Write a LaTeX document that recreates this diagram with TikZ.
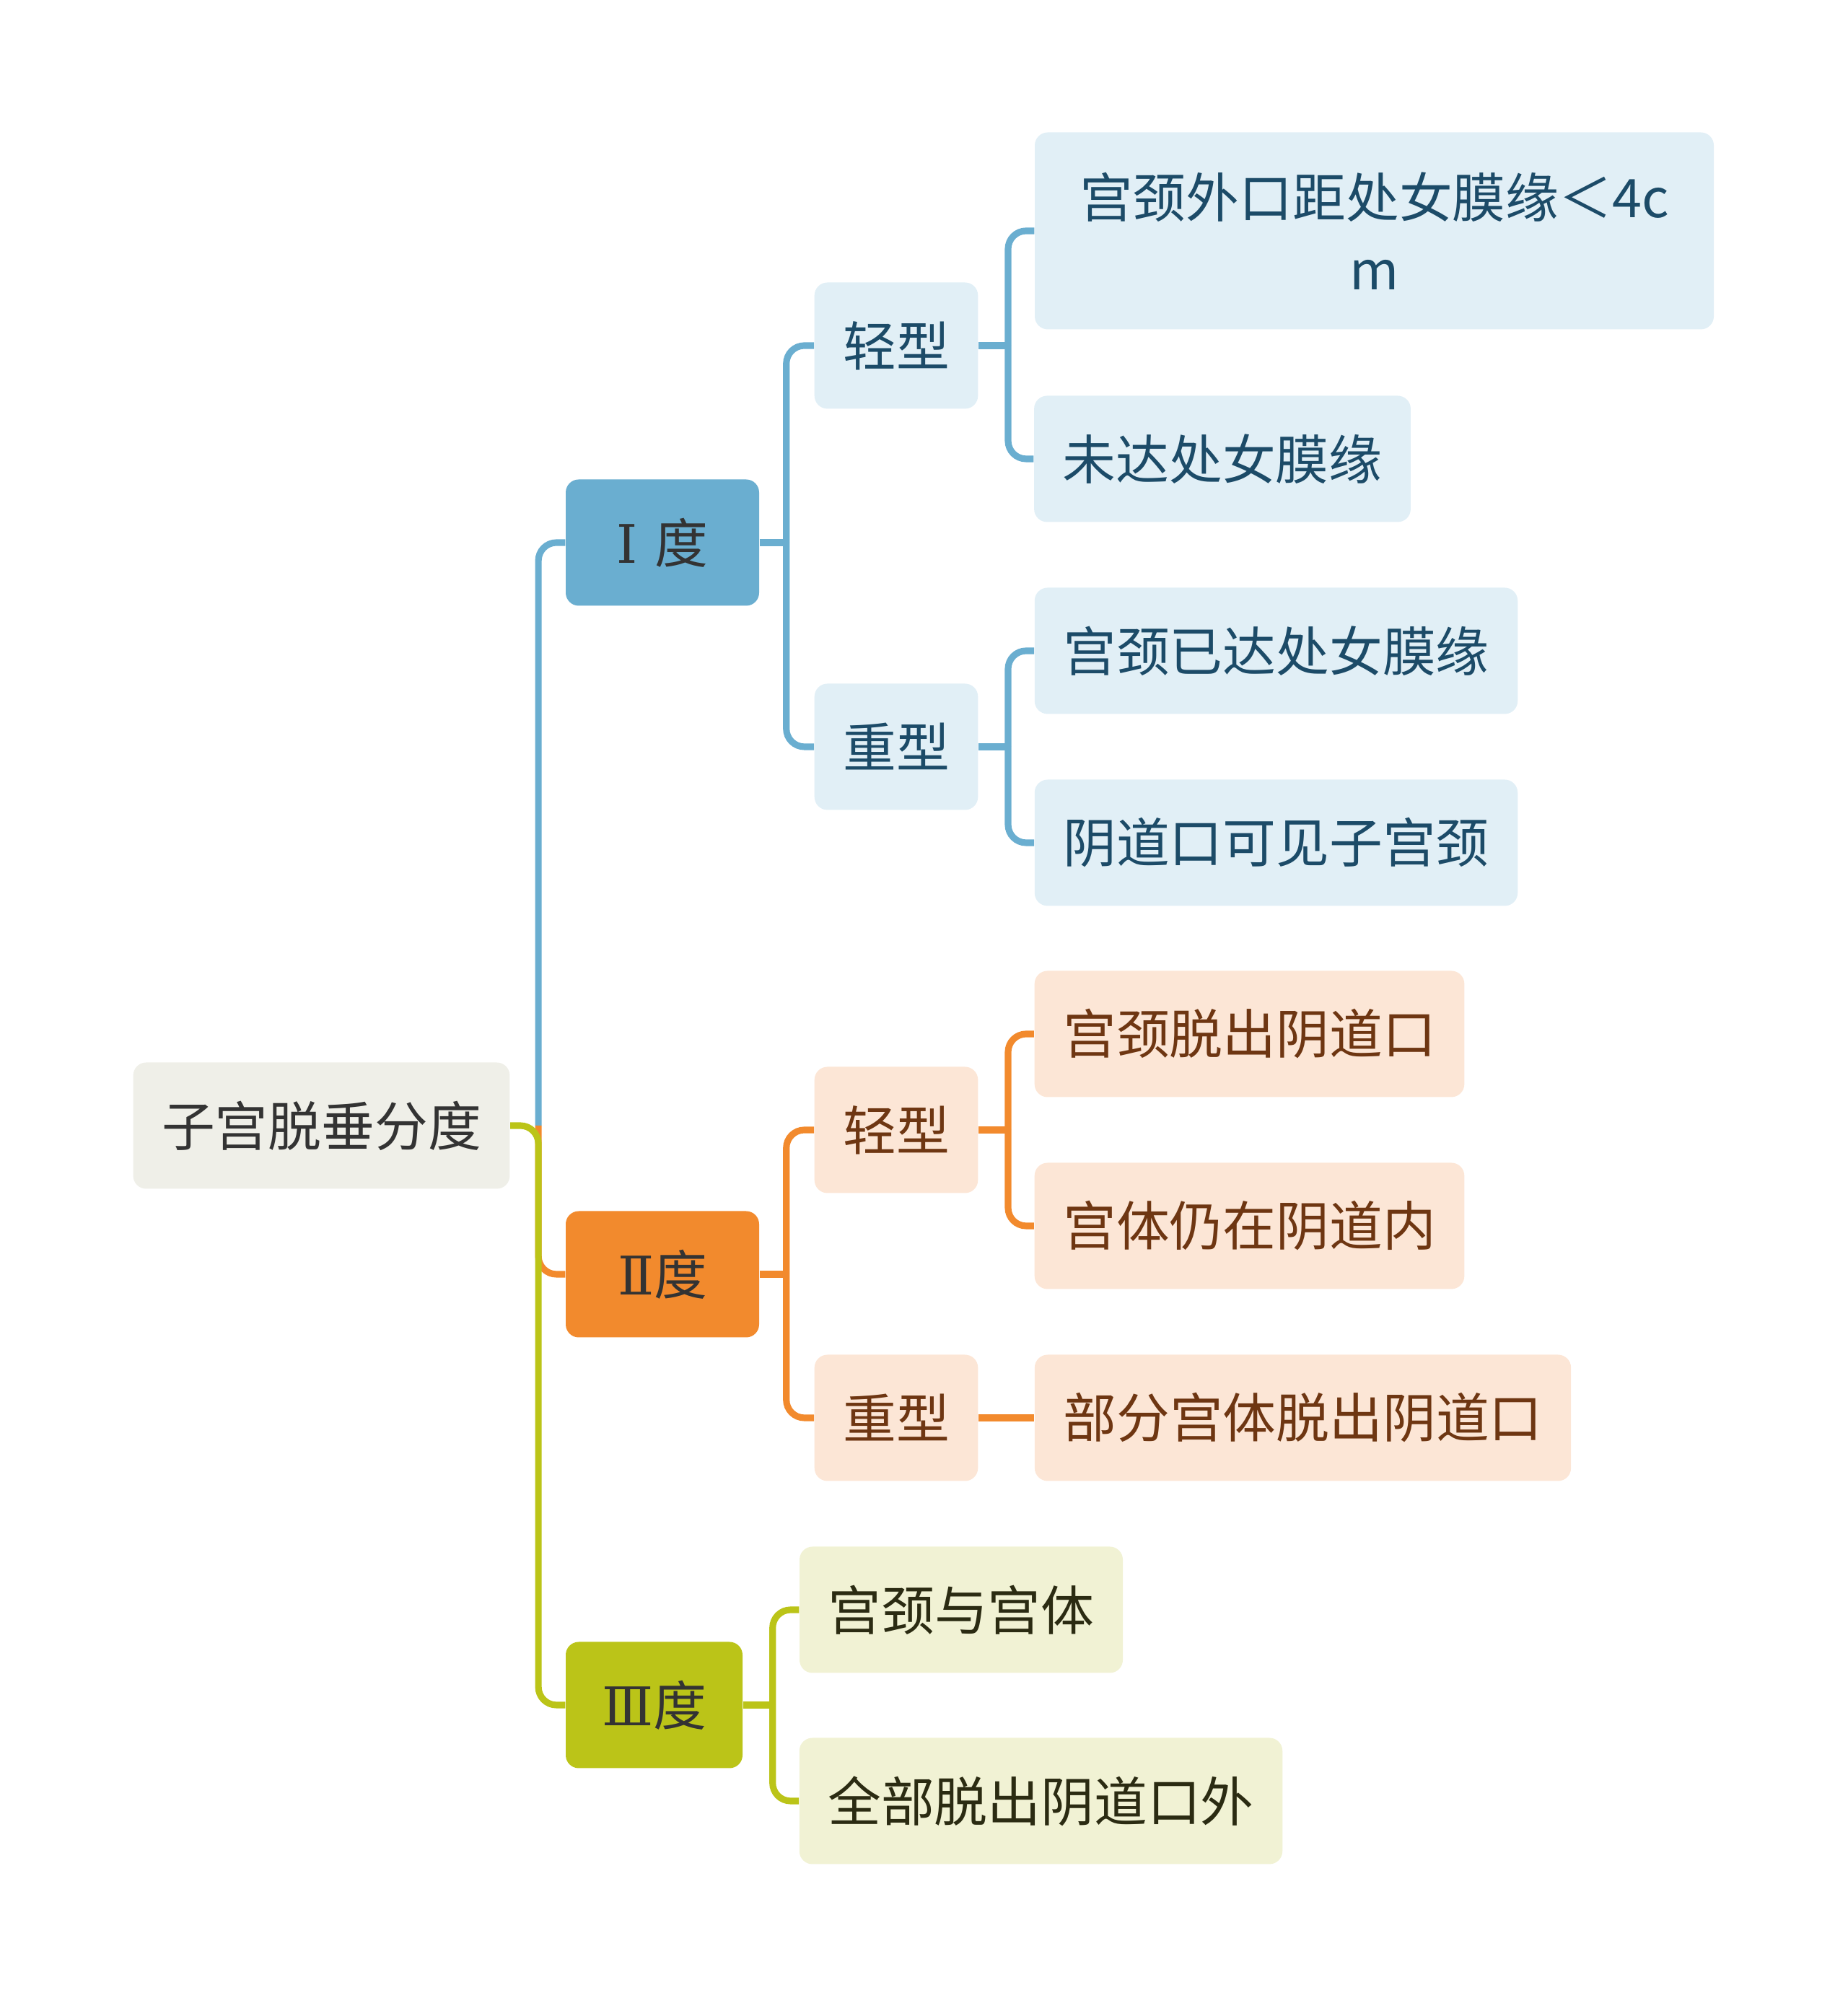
\documentclass[tikz,border=0pt]{standalone}
\usepackage{fontspec}
\usepackage{tikz}
\usetikzlibrary{positioning}
\newfontfamily\cjk{Noto Sans CJK SC}
\newfontfamily\numfont{DejaVu Serif}
\definecolor{rootbg}{HTML}{EFEFE8}
\definecolor{rootfg}{HTML}{333333}
\definecolor{blueline}{HTML}{6AAED0}
\definecolor{bluebg}{HTML}{E1EFF6}
\definecolor{bluefg}{HTML}{1C4B68}
\definecolor{orangeline}{HTML}{F28A2D}
\definecolor{orangebg}{HTML}{FCE6D6}
\definecolor{orangefg}{HTML}{6E3612}
\definecolor{oliveline}{HTML}{BBC418}
\definecolor{olivebg}{HTML}{F1F2D4}
\definecolor{olivefg}{HTML}{2B2B12}
\tikzset{
  box/.style={rounded corners=0.18cm, inner xsep=0.395cm, inner ysep=0pt, minimum height=1.75cm, align=center, font=\cjk\fontsize{21}{28.5}\selectfont},
  topic/.style={box, fill=rootbg, text=rootfg},
  grade/.style={box, minimum width=2.68cm, text=rootfg},
  bluebox/.style={box, fill=bluebg, text=bluefg},
  orangebox/.style={box, fill=orangebg, text=orangefg},
  olivebox/.style={box, fill=olivebg, text=olivefg},
  branch/.style={line width=2.6pt, rounded corners=0.25cm}
}
\begin{document}
\begin{tikzpicture}
  \useasboundingbox (0,0) rectangle (25.6,27.69);

  \node[topic] (root) at (4.455,12.09) {子宫脱垂分度};

  % grades
  \node[grade, fill=blueline] (dI) at (9.18,20.17) {{\numfont Ⅰ }度};
  \node[grade, fill=orangeline] (dII) at (9.18,10.03) {{\numfont Ⅱ}度};
  \node[grade, fill=oliveline, minimum width=2.45cm] (dIII) at (9.065,4.06) {{\numfont Ⅲ}度};

  % grade I
  \node[bluebox] (qI) at (12.42,22.90) {轻型};
  \node[bluebox] (zI) at (12.42,17.34) {重型};
  \node[bluebox, minimum width=9.41cm, minimum height=2.73cm] (aI1) at (19.045,24.49) {宫颈外口距处女膜缘＜4c\\m};
  \node[bluebox] (aI2) at (16.94,21.33) {未达处女膜缘};
  \node[bluebox] (bI1) at (17.685,18.67) {宫颈已达处女膜缘};
  \node[bluebox] (bI2) at (17.685,16.01) {阴道口可见子宫颈};

  % grade II
  \node[orangebox] (qII) at (12.42,12.03) {轻型};
  \node[orangebox] (zII) at (12.42,8.04) {重型};
  \node[orangebox] (aII1) at (17.315,13.36) {宫颈脱出阴道口};
  \node[orangebox] (aII2) at (17.315,10.70) {宫体仍在阴道内};
  \node[orangebox] (bII1) at (18.055,8.04) {部分宫体脱出阴道口};

  % grade III
  \node[olivebox] (cIII1) at (13.32,5.38) {宫颈与宫体};
  \node[olivebox] (cIII2) at (14.425,2.73) {全部脱出阴道口外};

  % junctions
  \coordinate[right=0.39 of root] (jR);
  \coordinate[right=0.37 of dI] (jI);
  \coordinate[right=0.37 of dII] (jII);
  \coordinate[right=0.41 of dIII] (jIII);
  \coordinate[right=0.41 of qI] (jqI);
  \coordinate[right=0.41 of zI] (jzI);
  \coordinate[right=0.41 of qII] (jqII);

  \draw[branch, blueline] (jR) |- (dI.west);
  \draw[branch, orangeline] (jR) |- (dII.west);
  \draw[branch, oliveline] (root.east) -- (jR) |- (dIII.west);

  \draw[branch, blueline] (dI.east) -- (jI);
  \draw[branch, blueline] (jI) |- (qI.west);
  \draw[branch, blueline] (jI) |- (zI.west);
  \draw[branch, blueline] (qI.east) -- (jqI);
  \draw[branch, blueline] (jqI) |- (aI1.west);
  \draw[branch, blueline] (jqI) |- (aI2.west);
  \draw[branch, blueline] (zI.east) -- (jzI);
  \draw[branch, blueline] (jzI) |- (bI1.west);
  \draw[branch, blueline] (jzI) |- (bI2.west);

  \draw[branch, orangeline] (dII.east) -- (jII);
  \draw[branch, orangeline] (jII) |- (qII.west);
  \draw[branch, orangeline] (jII) |- (zII.west);
  \draw[branch, orangeline] (qII.east) -- (jqII);
  \draw[branch, orangeline] (jqII) |- (aII1.west);
  \draw[branch, orangeline] (jqII) |- (aII2.west);
  \draw[branch, orangeline] (zII) -- (bII1);

  \draw[branch, oliveline] (dIII.east) -- (jIII);
  \draw[branch, oliveline] (jIII) |- (cIII1.west);
  \draw[branch, oliveline] (jIII) |- (cIII2.west);
\end{tikzpicture}
\end{document}
